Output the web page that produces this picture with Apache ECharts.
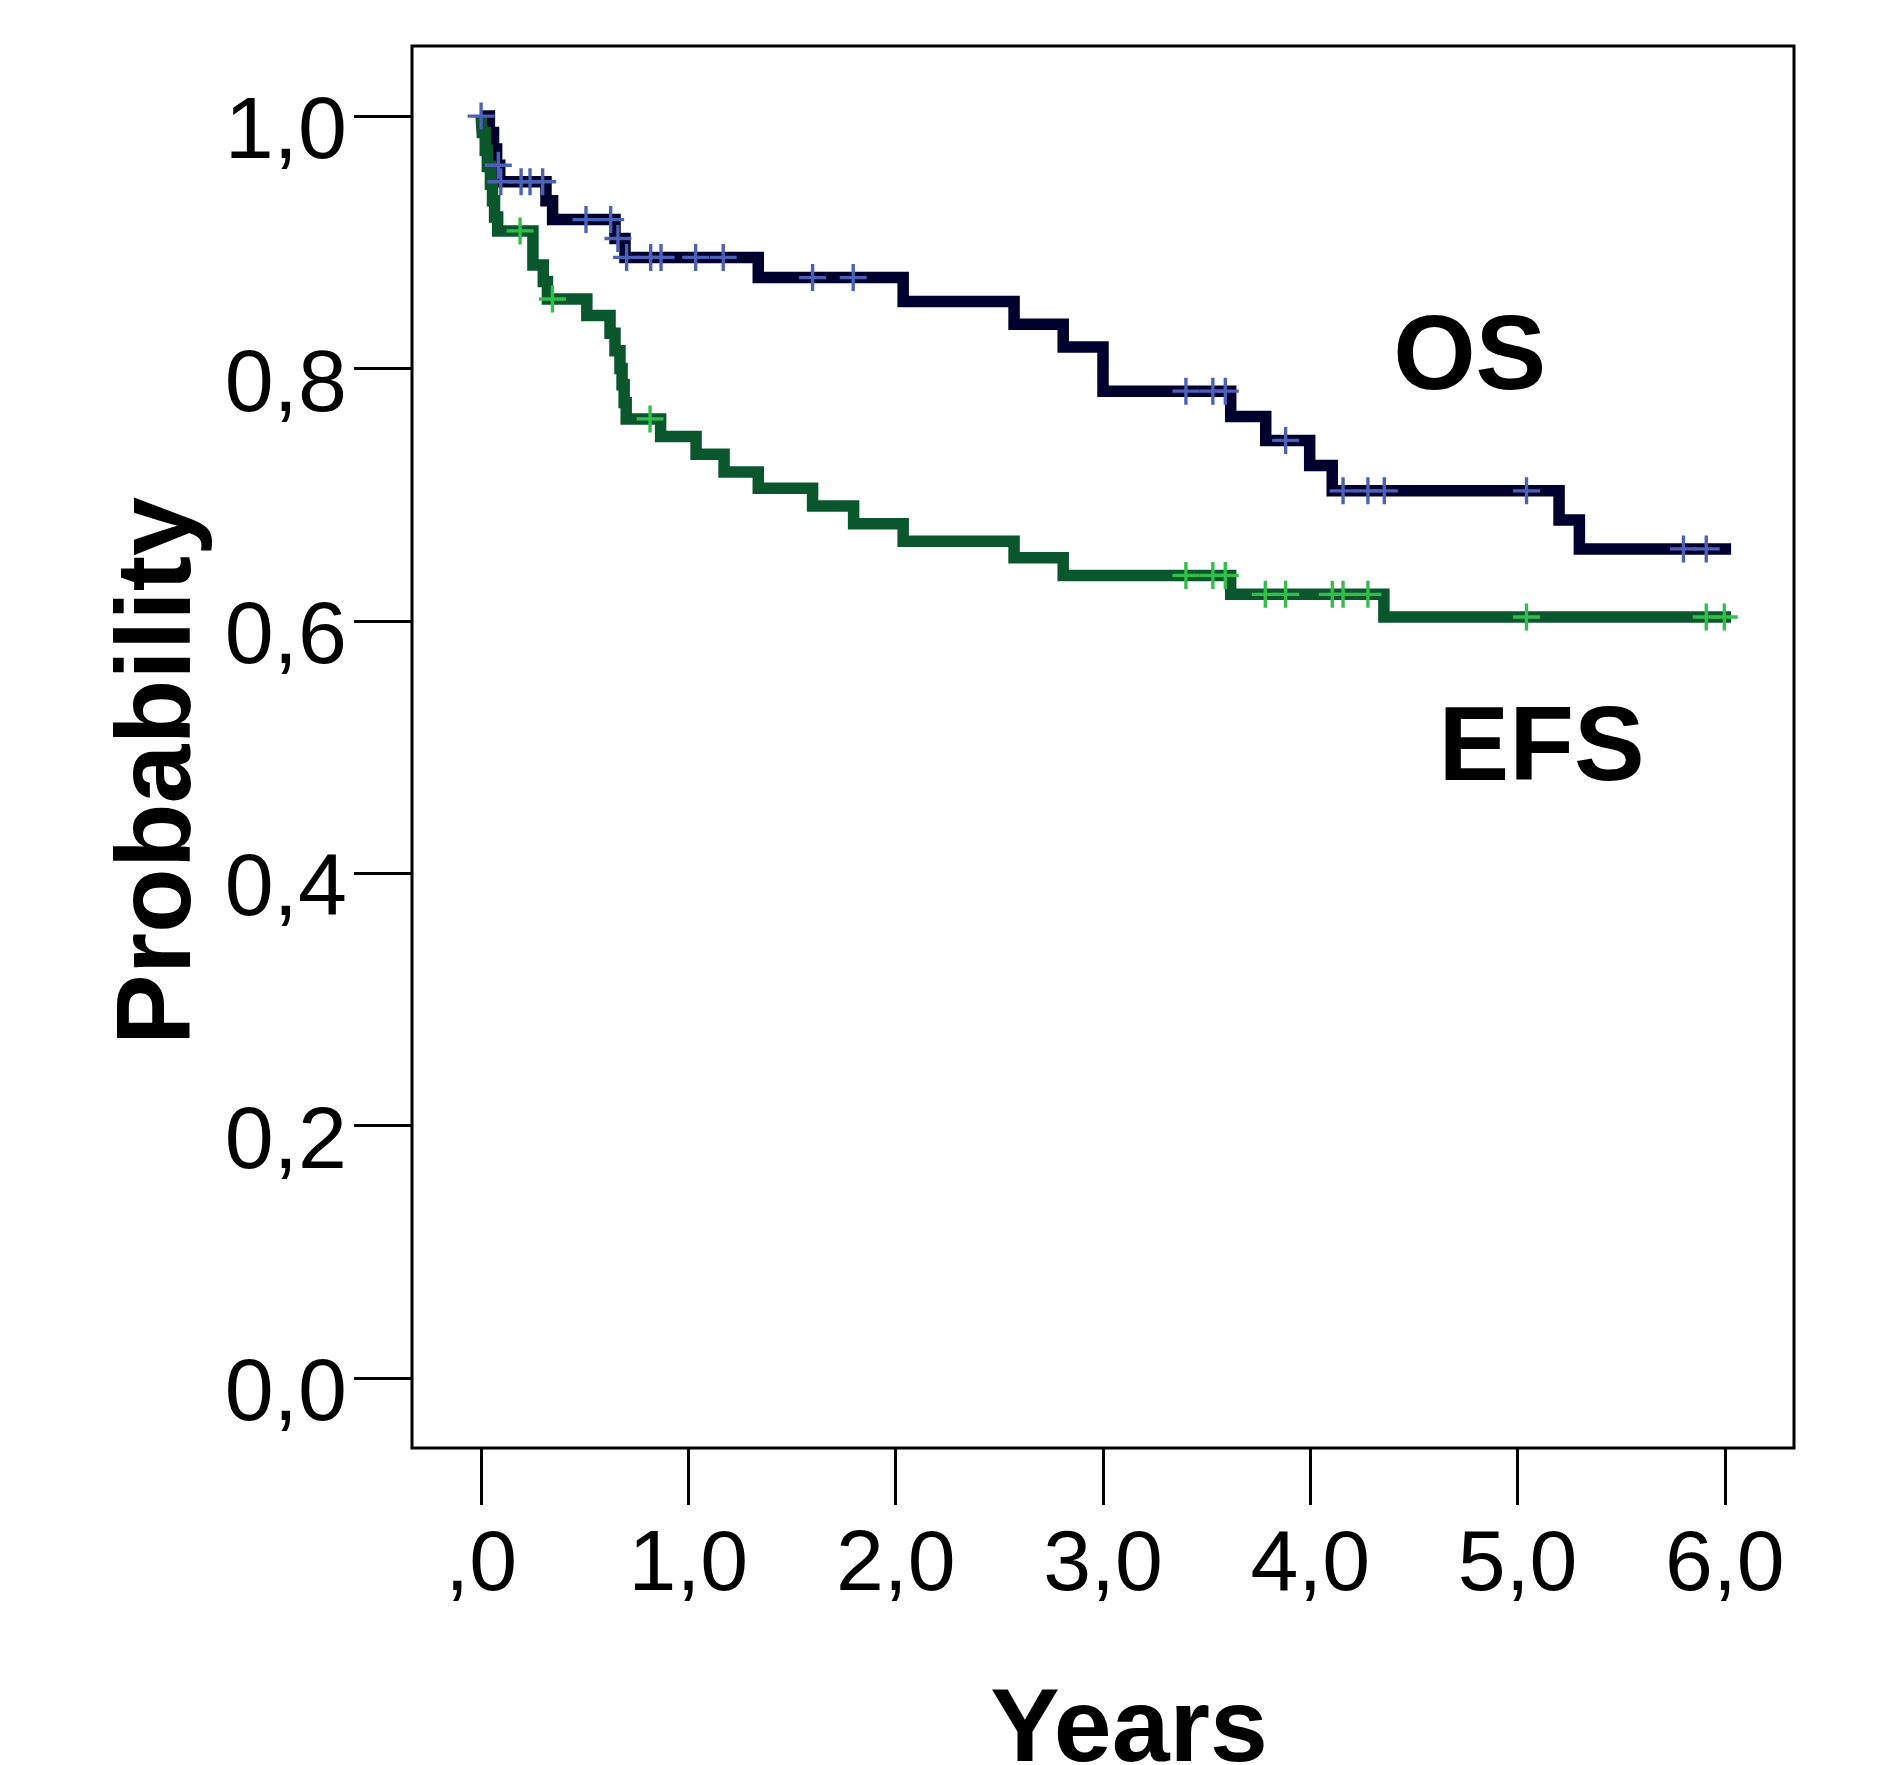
<!DOCTYPE html>
<html>
<head>
<meta charset="utf-8">
<title>OS / EFS</title>
<script src="https://cdn.jsdelivr.net/npm/echarts@6/dist/echarts.min.js"></script>
<style>
  html, body { margin: 0; padding: 0; background: #fff; }
  #chart { width: 1885px; height: 1765px; }
</style>
</head>
<body>
<div id="chart"></div>
<script>
  // 刻度
  const xTicks = [0, 1, 2, 3, 4, 5, 6];
  const yTicks = [0, 0.2, 0.4, 0.6, 0.8, 1.0];

  // OS 生存曲线 (时间, 概率)
  const osTime = [0, 0.04, 0.06, 0.075, 0.09, 0.313, 0.345, 0.646, 0.694, 1.337, 2.036, 2.571, 2.808, 3.0, 3.616, 3.785, 3.997, 4.106, 5.2, 5.298, 6.03];
  const osSurv = [1.0, 0.987, 0.974, 0.961, 0.948, 0.933, 0.918, 0.903, 0.888, 0.872, 0.853, 0.835, 0.817, 0.782, 0.762, 0.743, 0.723, 0.703, 0.680, 0.657, 0.657];
  // OS 删失
  const osCensTime = [0, 0.083, 0.095, 0.193, 0.236, 0.297, 0.506, 0.625, 0.66, 0.702, 0.818, 0.868, 1.035, 1.168, 1.599, 1.795, 3.40, 3.53, 3.59, 3.881, 4.158, 4.278, 4.357, 5.043, 5.80, 5.91];
  const osCensSurv = [1.0, 0.961, 0.948, 0.948, 0.948, 0.948, 0.918, 0.918, 0.903, 0.888, 0.888, 0.888, 0.888, 0.888, 0.872, 0.872, 0.782, 0.782, 0.782, 0.743, 0.703, 0.703, 0.703, 0.703, 0.657, 0.657];

  // EFS 生存曲线
  const efsTime = [0, 0.005, 0.02, 0.03, 0.045, 0.055, 0.065, 0.08, 0.25, 0.30, 0.32, 0.51, 0.622, 0.646, 0.67, 0.68, 0.69, 0.70, 0.866, 1.037, 1.172, 1.337, 1.599, 1.797, 2.036, 2.571, 2.808, 3.616, 4.355, 6.03];
  const efsSurv = [1.0, 0.987, 0.973, 0.96, 0.946, 0.933, 0.92, 0.909, 0.882, 0.869, 0.855, 0.842, 0.828, 0.814, 0.80, 0.787, 0.773, 0.760, 0.746, 0.732, 0.718, 0.705, 0.691, 0.677, 0.663, 0.650, 0.636, 0.621, 0.603, 0.603];
  // EFS 删失
  const efsCensTime = [0.188, 0.344, 0.815, 3.40, 3.53, 3.59, 3.783, 3.881, 4.106, 4.158, 4.278, 5.043, 5.91, 5.997];
  const efsCensSurv = [0.909, 0.855, 0.760, 0.636, 0.636, 0.636, 0.621, 0.621, 0.621, 0.621, 0.621, 0.603, 0.603, 0.603];

  // 曲线标注
  const curveNames = ['OS', 'EFS'];
  const namePosTime = [4.769, 5.116];
  const namePosSurv = [0.807, 0.497];

  const font = "'Liberation Sans', Arial, sans-serif";
  // 删失标记 "+"
  const plus = 'path://M12.25,0h3.5v12.25h12.25v3.5h-12.25v12.25h-3.5v-12.25h-12.25v-3.5h12.25z';

  function pairs(a, b) {
    return a.map(function (v, i) { return [v, b[i]]; });
  }
  function comma(v) {
    return v.toFixed(1).replace('.', ',');
  }

  let chart = echarts.init(document.getElementById('chart'));
  chart.setOption({
    animation: false,
    backgroundColor: '#fff',
    grid: {
      left: 412,
      right: 91,
      top: 46,
      bottom: 317,
      outerBoundsMode: 'none',
      show: true,
      borderColor: '#000',
      borderWidth: 3,
      backgroundColor: 'transparent'
    },
    xAxis: {
      type: 'value',
      min: -1 / 3,
      max: 6 + 1 / 3,
      name: 'Years',
      nameLocation: 'middle',
      nameGap: 232,
      nameTextStyle: {
        fontFamily: font,
        fontSize: 104,
        fontWeight: 'bold',
        color: '#000',
        padding: [0, 0, 0, 52]
      },
      axisLine: { show: false, onZero: false },
      axisTick: {
        show: true,
        length: 57,
        customValues: xTicks,
        lineStyle: { color: '#000', width: 3 }
      },
      axisLabel: {
        customValues: xTicks,
        margin: 75,
        fontFamily: font,
        fontSize: 86,
        color: '#000',
        formatter: function (v) { return v === 0 ? ',0' : comma(v); }
      },
      splitLine: { show: false }
    },
    yAxis: {
      type: 'value',
      min: -0.05 / 0.9,
      max: 1 + 0.05 / 0.9,
      name: 'Probability',
      nameLocation: 'middle',
      nameGap: 188,
      nameTextStyle: {
        fontFamily: font,
        fontSize: 106,
        fontWeight: 'bold',
        color: '#000',
        padding: [0, 48, 0, 0]
      },
      axisLine: { show: false, onZero: false },
      axisTick: {
        show: true,
        length: 58,
        customValues: yTicks,
        lineStyle: { color: '#000', width: 3 }
      },
      axisLabel: {
        customValues: yTicks,
        margin: 65,
        color: '#000',
        formatter: function (v) { return '{t|' + comma(v) + '}'; },
        rich: {
          t: {
            fontFamily: font,
            fontSize: 88,
            color: '#000',
            padding: [36, 0, 0, 0]
          }
        }
      },
      splitLine: { show: false }
    },
    series: [
      {
        name: 'OS',
        type: 'line',
        step: 'end',
        showSymbol: false,
        data: pairs(osTime, osSurv),
        lineStyle: { color: '#00002e', width: 11.5, join: 'miter', cap: 'butt' },
        z: 2
      },
      {
        name: 'EFS',
        type: 'line',
        step: 'end',
        showSymbol: false,
        data: pairs(efsTime, efsSurv),
        lineStyle: { color: '#0b572d', width: 11.5, join: 'miter', cap: 'butt' },
        z: 3
      },
      {
        name: 'OS censored',
        type: 'scatter',
        symbol: plus,
        symbolSize: 27,
        data: pairs(osCensTime, osCensSurv),
        itemStyle: { color: '#4a61b6', opacity: 1 },
        z: 4
      },
      {
        name: 'EFS censored',
        type: 'scatter',
        symbol: plus,
        symbolSize: 27,
        data: pairs(efsCensTime, efsCensSurv),
        itemStyle: { color: '#33bd4b', opacity: 1 },
        z: 5
      },
      {
        // OS / EFS 文字
        type: 'scatter',
        symbolSize: 0,
        itemStyle: { color: '#000', opacity: 1 },
        data: curveNames.map(function (n, i) {
          return { value: [namePosTime[i], namePosSurv[i]], name: n };
        }),
        label: {
          show: true,
          position: 'inside',
          formatter: '{b}',
          fontFamily: font,
          fontSize: 106,
          fontWeight: 'bold',
          color: '#000',
          opacity: 1
        },
        silent: true,
        z: 6
      }
    ]
  });
</script>
</body>
</html>
